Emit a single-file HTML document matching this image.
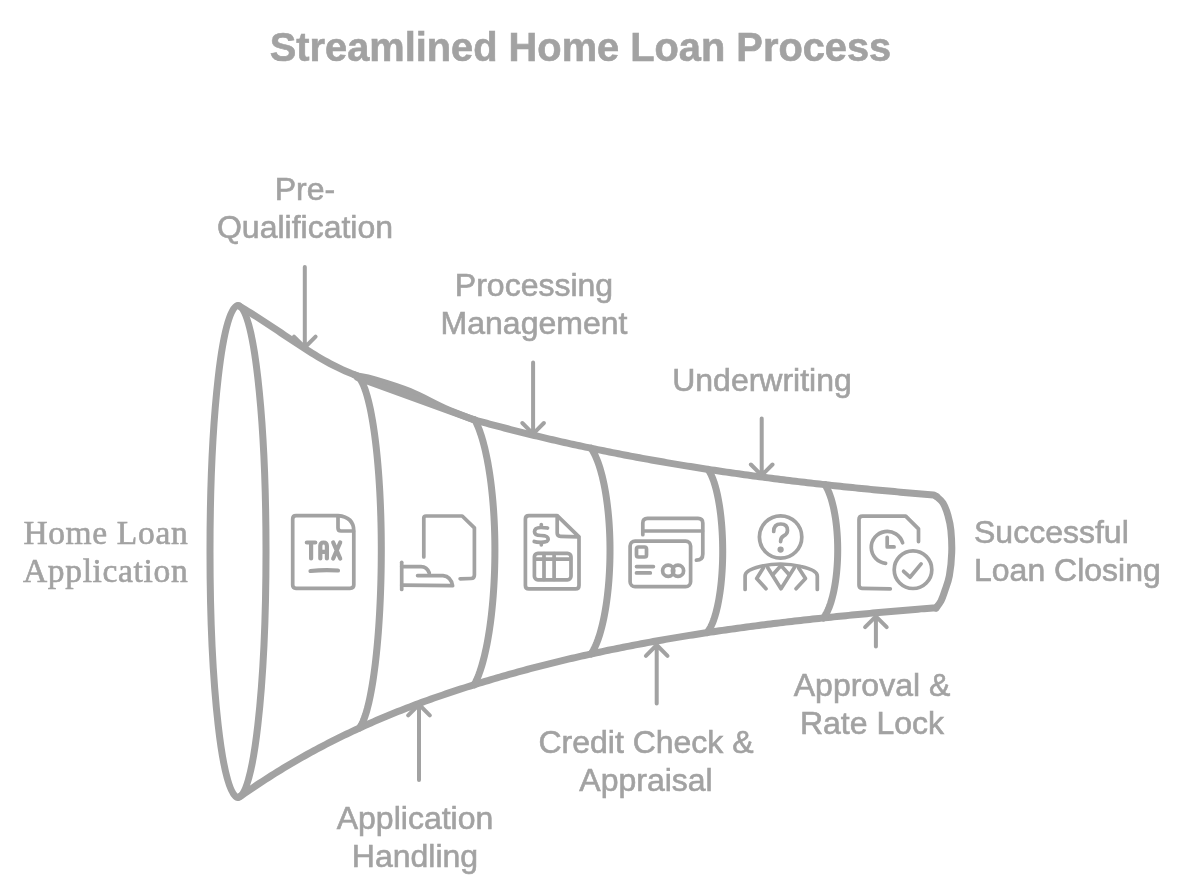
<!DOCTYPE html>
<html><head><meta charset="utf-8"><style>
html,body{margin:0;padding:0;background:#fff;}
body{width:1200px;height:895px;position:relative;overflow:hidden;}
svg{position:absolute;left:0;top:0;}
.t{position:absolute;will-change:transform;font-family:"Liberation Sans",sans-serif;color:#a2a2a2;font-size:32px;line-height:38px;white-space:nowrap;}
.c{text-align:center;}
.s{-webkit-text-stroke:0.6px #a2a2a2;}
.serif{font-family:"Liberation Serif",serif;font-size:33.5px;letter-spacing:0.65px;}
</style></head><body>
<svg width="1200" height="895" viewBox="0 0 1200 895">
<ellipse cx="238" cy="551.5" rx="28" ry="246" fill="none" stroke="#a2a2a2" stroke-width="7"/>
<path d="M 238.50,305.80 L 241.55,307.49 L 244.60,309.29 L 247.65,311.13 L 250.71,313.01 L 253.76,314.92 L 256.81,316.86 L 259.86,318.82 L 262.91,320.81 L 265.96,322.81 L 269.01,324.83 L 272.06,326.86 L 275.12,328.90 L 278.17,330.95 L 281.22,333.00 L 284.27,335.05 L 287.32,337.09 L 290.37,339.13 L 293.42,341.16 L 296.47,343.18 L 299.53,345.17 L 302.58,347.15 L 305.63,349.11 L 308.68,351.04 L 311.73,352.95 L 314.78,354.81 L 317.83,356.65 L 320.88,358.44 L 323.94,360.20 L 326.99,361.91 L 330.04,363.57 L 333.09,365.18 L 336.14,366.73 L 339.19,368.23 L 342.24,369.66 L 345.29,371.03 L 348.35,372.33 L 351.40,373.57 L 354.45,374.73 L 357.50,376.00" fill="none" stroke="#a2a2a2" stroke-width="7" stroke-linecap="round" stroke-linejoin="round"/>
<path d="M 357.5,376.0 C 360.4,376.6 366.2,377.2 375.0,379.8 C 383.8,382.4 398.3,386.7 410.0,391.5 C 421.7,396.3 434.2,403.6 445.0,408.4 C 455.8,413.1 469.6,418.1 474.5,420.0" fill="none" stroke="#a2a2a2" stroke-width="7" stroke-linecap="round" stroke-linejoin="round"/>
<path d="M 357.5,377.5 C 377.0,384.6 455.0,412.9 474.5,420.0" fill="none" stroke="#a2a2a2" stroke-width="7" stroke-linecap="round" stroke-linejoin="round"/>
<path d="M 474.50,420.00 L 477.50,420.77 L 480.50,421.59 L 483.50,422.41 L 486.50,423.23 L 489.50,424.03 L 492.50,424.84 L 495.50,425.63 L 498.50,426.42 L 501.50,427.21 L 504.50,427.99 L 507.50,428.76 L 510.50,429.53 L 513.50,430.29 L 516.50,431.05 L 519.50,431.80 L 522.50,432.55 L 525.50,433.29 L 528.50,434.03 L 531.50,434.76 L 534.50,435.49 L 537.50,436.21 L 540.50,436.92 L 543.50,437.63 L 546.50,438.34 L 549.50,439.04 L 552.50,439.73 L 555.50,440.42 L 558.50,441.11 L 561.50,441.79 L 564.50,442.46 L 567.50,443.13 L 570.50,443.80 L 573.50,444.46 L 576.50,445.11 L 579.50,445.76 L 582.50,446.41 L 585.50,447.05 L 588.50,447.68 L 591.50,448.31 L 594.50,448.94 L 597.50,449.56 L 600.50,450.17 L 603.50,450.79 L 606.50,451.39 L 609.50,452.00 L 612.50,452.59 L 615.50,453.19 L 618.50,453.77 L 621.50,454.36 L 624.50,454.94 L 627.50,455.51 L 630.50,456.08 L 633.50,456.65 L 636.50,457.21 L 639.50,457.77 L 642.50,458.32 L 645.50,458.87 L 648.50,459.41 L 651.50,459.95 L 654.50,460.49 L 657.50,461.02 L 660.50,461.54 L 663.50,462.07 L 666.50,462.58 L 669.50,463.10 L 672.50,463.61 L 675.50,464.11 L 678.50,464.62 L 681.50,465.11 L 684.50,465.61 L 687.50,466.10 L 690.50,466.58 L 693.50,467.07 L 696.50,467.54 L 699.50,468.02 L 702.50,468.49 L 705.50,468.95 L 708.50,469.42 L 711.50,469.87 L 714.50,470.33 L 717.50,470.78 L 720.50,471.23 L 723.50,471.67 L 726.50,472.11 L 729.50,472.55 L 732.50,472.98 L 735.50,473.41 L 738.50,473.83 L 741.50,474.26 L 744.50,474.67 L 747.50,475.09 L 750.50,475.50 L 753.50,475.91 L 756.50,476.31 L 759.50,476.71 L 762.50,477.11 L 765.50,477.50 L 768.50,477.90 L 771.50,478.28 L 774.50,478.67 L 777.50,479.05 L 780.50,479.43 L 783.50,479.80 L 786.50,480.17 L 789.50,480.54 L 792.50,480.90 L 795.50,481.27 L 798.50,481.62 L 801.50,481.98 L 804.50,482.33 L 807.50,482.68 L 810.50,483.03 L 813.50,483.37 L 816.50,483.71 L 819.50,484.05 L 822.50,484.39 L 825.50,484.72 L 828.50,485.05 L 831.50,485.37 L 834.50,485.70 L 837.50,486.02 L 840.50,486.33 L 843.50,486.65 L 846.50,486.96 L 849.50,487.27 L 852.50,487.58 L 855.50,487.88 L 858.50,488.19 L 861.50,488.49 L 864.50,488.78 L 867.50,489.08 L 870.50,489.37 L 873.50,489.66 L 876.50,489.94 L 879.50,490.23 L 882.50,490.51 L 885.50,490.79 L 888.50,491.07 L 891.50,491.34 L 894.50,491.61 L 897.50,491.89 L 900.50,492.15 L 903.50,492.42 L 906.50,492.68 L 909.50,492.94 L 912.50,493.20 L 915.50,493.46 L 918.50,493.72 L 921.50,493.97 L 924.50,494.22 L 927.50,494.47 L 930.50,494.72 L 933.50,494.96 L 936.50,496.50" fill="none" stroke="#a2a2a2" stroke-width="7" stroke-linecap="round" stroke-linejoin="round"/>
<path d="M 936.5,496.5 C 937.6,497.6 941.1,499.9 943.0,503.0 C 944.9,506.1 946.6,510.7 947.9,515.2 C 949.2,519.8 950.3,524.0 950.9,530.3 C 951.5,536.6 952.0,545.3 951.7,552.9 C 951.5,560.5 950.5,569.3 949.4,575.6 C 948.3,581.9 946.3,586.5 944.9,590.7 C 943.5,594.9 942.5,598.1 941.0,601.0 C 939.5,603.9 936.8,606.8 936.0,608.0" fill="none" stroke="#a2a2a2" stroke-width="7" stroke-linecap="round" stroke-linejoin="round"/>
<path d="M 238.50,797.30 L 241.51,795.57 L 244.51,793.47 L 247.52,791.39 L 250.53,789.33 L 253.53,787.29 L 256.54,785.28 L 259.55,783.29 L 262.55,781.32 L 265.56,779.37 L 268.56,777.44 L 271.57,775.53 L 274.58,773.64 L 277.58,771.77 L 280.59,769.93 L 283.60,768.10 L 286.60,766.29 L 289.61,764.50 L 292.62,762.73 L 295.62,760.98 L 298.63,759.25 L 301.64,757.54 L 304.64,755.85 L 307.65,754.17 L 310.66,752.52 L 313.66,750.88 L 316.67,749.26 L 319.67,747.65 L 322.68,746.07 L 325.69,744.50 L 328.69,742.95 L 331.70,741.42 L 334.71,739.90 L 337.71,738.40 L 340.72,736.91 L 343.73,735.45 L 346.73,733.99 L 349.74,732.56 L 352.75,731.14 L 355.75,729.73 L 358.76,728.35 L 361.77,726.97 L 364.77,725.61 L 367.78,724.27 L 370.78,722.94 L 373.79,721.62 L 376.80,720.32 L 379.80,719.04 L 382.81,717.76 L 385.82,716.50 L 388.82,715.26 L 391.83,714.03 L 394.84,712.81 L 397.84,711.60 L 400.85,710.41 L 403.86,709.23 L 406.86,708.06 L 409.87,706.90 L 412.88,705.76 L 415.88,704.63 L 418.89,703.51 L 421.89,702.40 L 424.90,701.30 L 427.91,700.21 L 430.91,699.14 L 433.92,698.07 L 436.93,697.02 L 439.93,695.97 L 442.94,694.94 L 445.95,693.92 L 448.95,692.90 L 451.96,691.90 L 454.97,690.91 L 457.97,689.92 L 460.98,688.94 L 463.98,687.98 L 466.99,687.02 L 470.00,686.07 L 473.00,685.13 L 476.01,684.19 L 479.02,683.27 L 482.02,682.35 L 485.03,681.44 L 488.04,680.54 L 491.04,679.65 L 494.05,678.76 L 497.06,677.88 L 500.06,677.01 L 503.07,676.15 L 506.08,675.29 L 509.08,674.44 L 512.09,673.60 L 515.09,672.77 L 518.10,671.94 L 521.11,671.12 L 524.11,670.31 L 527.12,669.50 L 530.13,668.70 L 533.13,667.91 L 536.14,667.13 L 539.15,666.35 L 542.15,665.58 L 545.16,664.82 L 548.17,664.06 L 551.17,663.31 L 554.18,662.57 L 557.19,661.83 L 560.19,661.10 L 563.20,660.38 L 566.20,659.66 L 569.21,658.95 L 572.22,658.25 L 575.22,657.55 L 578.23,656.86 L 581.24,656.18 L 584.24,655.50 L 587.25,654.83 L 590.26,654.16 L 593.26,653.51 L 596.27,652.85 L 599.28,652.21 L 602.28,651.56 L 605.29,650.93 L 608.30,650.30 L 611.30,649.68 L 614.31,649.06 L 617.31,648.45 L 620.32,647.84 L 623.33,647.24 L 626.33,646.65 L 629.34,646.06 L 632.35,645.48 L 635.35,644.90 L 638.36,644.33 L 641.37,643.76 L 644.37,643.20 L 647.38,642.64 L 650.39,642.09 L 653.39,641.55 L 656.40,641.01 L 659.41,640.48 L 662.41,639.95 L 665.42,639.42 L 668.42,638.90 L 671.43,638.39 L 674.44,637.88 L 677.44,637.38 L 680.45,636.88 L 683.46,636.38 L 686.46,635.89 L 689.47,635.41 L 692.48,634.93 L 695.48,634.45 L 698.49,633.98 L 701.50,633.51 L 704.50,633.05 L 707.51,632.59 L 710.52,632.14 L 713.52,631.69 L 716.53,631.25 L 719.53,630.81 L 722.54,630.37 L 725.55,629.94 L 728.55,629.52 L 731.56,629.09 L 734.57,628.67 L 737.57,628.26 L 740.58,627.85 L 743.59,627.44 L 746.59,627.04 L 749.60,626.64 L 752.61,626.25 L 755.61,625.85 L 758.62,625.47 L 761.62,625.08 L 764.63,624.70 L 767.64,624.33 L 770.64,623.95 L 773.65,623.58 L 776.66,623.22 L 779.66,622.86 L 782.67,622.50 L 785.68,622.14 L 788.68,621.79 L 791.69,621.44 L 794.70,621.09 L 797.70,620.75 L 800.71,620.41 L 803.72,620.07 L 806.72,619.74 L 809.73,619.41 L 812.73,619.08 L 815.74,618.76 L 818.75,618.44 L 821.75,618.12 L 824.76,617.80 L 827.77,617.49 L 830.77,617.18 L 833.78,616.87 L 836.79,616.56 L 839.79,616.26 L 842.80,615.96 L 845.81,615.66 L 848.81,615.37 L 851.82,615.07 L 854.83,614.78 L 857.83,614.49 L 860.84,614.21 L 863.84,613.92 L 866.85,613.64 L 869.86,613.36 L 872.86,613.08 L 875.87,612.81 L 878.88,612.53 L 881.88,612.26 L 884.89,611.99 L 887.90,611.72 L 890.90,611.46 L 893.91,611.19 L 896.92,610.93 L 899.92,610.67 L 902.93,610.41 L 905.94,610.15 L 908.94,609.90 L 911.95,609.64 L 914.95,609.39 L 917.96,609.14 L 920.97,608.88 L 923.97,608.64 L 926.98,608.39 L 929.99,608.14 L 932.99,607.90 L 936.00,608.00" fill="none" stroke="#a2a2a2" stroke-width="7" stroke-linecap="round" stroke-linejoin="round"/>
<path d="M 354.10,374.63 L 358.36,376.78 L 359.29,377.84 L 360.22,379.11 L 361.14,380.59 L 362.05,382.27 L 362.96,384.16 L 363.85,386.24 L 364.73,388.53 L 365.60,391.01 L 366.45,393.69 L 367.29,396.55 L 368.11,399.61 L 368.91,402.84 L 369.70,406.25 L 370.47,409.84 L 371.22,413.60 L 371.94,417.52 L 372.65,421.61 L 373.33,425.85 L 373.99,430.24 L 374.63,434.77 L 375.24,439.45 L 375.82,444.26 L 376.38,449.20 L 376.91,454.26 L 377.41,459.43 L 377.89,464.72 L 378.34,470.11 L 378.75,475.60 L 379.14,481.17 L 379.49,486.83 L 379.82,492.57 L 380.11,498.37 L 380.37,504.24 L 380.60,510.16 L 380.80,516.13 L 380.97,522.14 L 381.10,528.19 L 381.20,534.26 L 381.26,540.35 L 381.30,546.45 L 381.30,552.68 L 381.26,559.03 L 381.20,565.37 L 381.10,571.69 L 380.97,577.98 L 380.80,584.24 L 380.60,590.45 L 380.37,596.62 L 380.11,602.72 L 379.82,608.77 L 379.49,614.74 L 379.14,620.63 L 378.75,626.43 L 378.34,632.15 L 377.89,637.76 L 377.41,643.26 L 376.91,648.65 L 376.38,653.91 L 375.82,659.06 L 375.24,664.06 L 374.63,668.93 L 373.99,673.65 L 373.33,678.22 L 372.65,682.64 L 371.94,686.89 L 371.22,690.97 L 370.47,694.88 L 369.70,698.62 L 368.91,702.17 L 368.11,705.54 L 367.29,708.72 L 366.45,711.70 L 365.60,714.49 L 364.73,717.07 L 363.85,719.45 L 362.96,721.62 L 362.05,723.59 L 361.14,725.34 L 360.22,726.88 L 359.43,728.01" fill="none" stroke="#a2a2a2" stroke-width="7" stroke-linecap="round" stroke-linejoin="round"/>
<path d="M 475.01,420.16 L 476.08,422.27 L 477.12,424.55 L 478.15,426.97 L 479.16,429.55 L 480.14,432.27 L 481.10,435.14 L 482.04,438.14 L 482.95,441.29 L 483.84,444.56 L 484.69,447.97 L 485.52,451.49 L 486.32,455.14 L 487.09,458.91 L 487.83,462.78 L 488.53,466.76 L 489.20,470.85 L 489.84,475.03 L 490.44,479.30 L 491.01,483.66 L 491.54,488.10 L 492.03,492.61 L 492.49,497.19 L 492.91,501.84 L 493.29,506.55 L 493.63,511.31 L 493.93,516.12 L 494.19,520.97 L 494.41,525.85 L 494.59,530.77 L 494.73,535.70 L 494.83,540.66 L 494.88,545.63 L 494.90,550.61 L 494.88,555.70 L 494.81,560.79 L 494.70,565.86 L 494.56,570.92 L 494.37,575.95 L 494.14,580.94 L 493.87,585.90 L 493.56,590.82 L 493.21,595.69 L 492.83,600.50 L 492.40,605.25 L 491.94,609.93 L 491.44,614.54 L 490.90,619.07 L 490.33,623.52 L 489.72,627.88 L 489.07,632.14 L 488.39,636.30 L 487.68,640.36 L 486.94,644.31 L 486.17,648.14 L 485.36,651.85 L 484.53,655.44 L 483.66,658.90 L 482.77,662.23 L 481.85,665.43 L 480.91,668.48 L 479.95,671.39 L 478.96,674.14 L 477.95,676.75 L 476.92,679.21 L 475.87,681.50 L 474.80,683.64 L 474.21,684.75" fill="none" stroke="#a2a2a2" stroke-width="7" stroke-linecap="round" stroke-linejoin="round"/>
<path d="M 591.11,448.24 L 592.07,449.71 L 593.02,451.30 L 593.95,453.01 L 594.87,454.84 L 595.77,456.79 L 596.65,458.85 L 597.51,461.02 L 598.34,463.30 L 599.16,465.69 L 599.95,468.17 L 600.72,470.76 L 601.46,473.45 L 602.18,476.23 L 602.87,479.09 L 603.53,482.05 L 604.17,485.09 L 604.77,488.20 L 605.35,491.40 L 605.89,494.66 L 606.40,497.99 L 606.88,501.39 L 607.33,504.84 L 607.74,508.35 L 608.12,511.91 L 608.47,515.52 L 608.78,519.17 L 609.06,522.85 L 609.30,526.57 L 609.51,530.32 L 609.68,534.10 L 609.81,537.89 L 609.91,541.70 L 609.97,545.51 L 610.00,549.34 L 609.99,553.22 L 609.94,557.11 L 609.86,561.00 L 609.74,564.87 L 609.58,568.73 L 609.39,572.56 L 609.16,576.37 L 608.90,580.14 L 608.60,583.88 L 608.27,587.57 L 607.90,591.22 L 607.50,594.82 L 607.06,598.37 L 606.60,601.86 L 606.10,605.28 L 605.57,608.64 L 605.00,611.92 L 604.41,615.13 L 603.79,618.26 L 603.14,621.31 L 602.46,624.27 L 601.75,627.14 L 601.02,629.92 L 600.26,632.60 L 599.48,635.17 L 598.67,637.65 L 597.84,640.02 L 596.99,642.28 L 596.12,644.42 L 595.23,646.45 L 594.32,648.37 L 593.39,650.16 L 592.45,651.84 L 591.49,653.38 L 591.11,653.97" fill="none" stroke="#a2a2a2" stroke-width="7" stroke-linecap="round" stroke-linejoin="round"/>
<path d="M 708.00,469.34 L 708.72,470.39 L 709.43,471.54 L 710.12,472.78 L 710.81,474.12 L 711.48,475.55 L 712.14,477.08 L 712.79,478.69 L 713.42,480.40 L 714.04,482.19 L 714.64,484.06 L 715.23,486.02 L 715.79,488.06 L 716.34,490.17 L 716.87,492.36 L 717.38,494.62 L 717.87,496.95 L 718.34,499.35 L 718.78,501.81 L 719.21,504.33 L 719.61,506.91 L 719.99,509.54 L 720.35,512.22 L 720.68,514.95 L 720.99,517.73 L 721.27,520.54 L 721.53,523.40 L 721.77,526.29 L 721.97,529.20 L 722.16,532.15 L 722.31,535.12 L 722.44,538.11 L 722.55,541.11 L 722.62,544.13 L 722.67,547.16 L 722.70,550.19 L 722.70,553.17 L 722.67,556.13 L 722.61,559.08 L 722.53,562.02 L 722.42,564.95 L 722.28,567.86 L 722.12,570.75 L 721.93,573.62 L 721.72,576.46 L 721.48,579.27 L 721.22,582.04 L 720.93,584.78 L 720.62,587.48 L 720.28,590.13 L 719.92,592.74 L 719.53,595.30 L 719.13,597.80 L 718.70,600.25 L 718.24,602.63 L 717.77,604.96 L 717.28,607.22 L 716.76,609.41 L 716.23,611.53 L 715.68,613.58 L 715.11,615.55 L 714.52,617.44 L 713.92,619.25 L 713.30,620.98 L 712.66,622.63 L 712.01,624.19 L 711.35,625.66 L 710.67,627.04 L 709.99,628.32 L 709.29,629.52 L 708.58,630.62 L 707.86,631.62 L 707.13,632.52 L 707.02,632.65" fill="none" stroke="#a2a2a2" stroke-width="7" stroke-linecap="round" stroke-linejoin="round"/>
<path d="M 825.01,484.68 L 825.71,485.82 L 826.40,487.03 L 827.07,488.32 L 827.73,489.68 L 828.37,491.12 L 829.00,492.62 L 829.61,494.20 L 830.20,495.84 L 830.78,497.56 L 831.33,499.33 L 831.87,501.16 L 832.38,503.06 L 832.88,505.01 L 833.35,507.02 L 833.80,509.08 L 834.23,511.19 L 834.64,513.34 L 835.02,515.54 L 835.38,517.78 L 835.72,520.06 L 836.02,522.38 L 836.31,524.73 L 836.57,527.11 L 836.80,529.52 L 837.01,531.95 L 837.19,534.41 L 837.34,536.88 L 837.47,539.37 L 837.56,541.87 L 837.64,544.38 L 837.68,546.90 L 837.70,549.42 L 837.69,551.97 L 837.65,554.52 L 837.59,557.06 L 837.50,559.59 L 837.38,562.11 L 837.23,564.62 L 837.06,567.11 L 836.86,569.58 L 836.64,572.02 L 836.39,574.44 L 836.11,576.82 L 835.81,579.18 L 835.48,581.50 L 835.13,583.78 L 834.76,586.01 L 834.36,588.21 L 833.94,590.35 L 833.49,592.45 L 833.02,594.50 L 832.53,596.49 L 832.02,598.42 L 831.49,600.30 L 830.94,602.11 L 830.38,603.86 L 829.79,605.54 L 829.18,607.16 L 828.56,608.71 L 827.92,610.18 L 827.27,611.58 L 826.60,612.91 L 825.92,614.15 L 825.22,615.32 L 824.52,616.41 L 823.80,617.42 L 823.40,617.94" fill="none" stroke="#a2a2a2" stroke-width="7" stroke-linecap="round" stroke-linejoin="round"/>
<path d="M 304.8,267 L 304.8,347.5 M 294.0,336.7 L 304.8,347.5 L 315.6,336.7" fill="none" stroke="#a2a2a2" stroke-width="4" stroke-linecap="round" stroke-linejoin="round"/>
<path d="M 533.1,362.5 L 533.1,433.8 M 522.3000000000001,423.0 L 533.1,433.8 L 543.9,423.0" fill="none" stroke="#a2a2a2" stroke-width="4" stroke-linecap="round" stroke-linejoin="round"/>
<path d="M 761.7,418.5 L 761.7,475.3 M 750.9000000000001,464.5 L 761.7,475.3 L 772.5,464.5" fill="none" stroke="#a2a2a2" stroke-width="4" stroke-linecap="round" stroke-linejoin="round"/>
<path d="M 419,780 L 419,704.5 M 408.2,715.3 L 419,704.5 L 429.8,715.3" fill="none" stroke="#a2a2a2" stroke-width="4" stroke-linecap="round" stroke-linejoin="round"/>
<path d="M 656.7,703.5 L 656.7,645 M 645.9000000000001,655.8 L 656.7,645 L 667.5,655.8" fill="none" stroke="#a2a2a2" stroke-width="4" stroke-linecap="round" stroke-linejoin="round"/>
<path d="M 875.9,646.5 L 875.9,616.4 M 865.1,627.1999999999999 L 875.9,616.4 L 886.6999999999999,627.1999999999999" fill="none" stroke="#a2a2a2" stroke-width="4" stroke-linecap="round" stroke-linejoin="round"/>

<g fill="none" stroke="#a2a2a2" stroke-width="3.7" stroke-linecap="round" stroke-linejoin="round">
 <!-- icon1 TAX doc -->
 <path d="M 296,515.6 L 338,515.6 Q 353.8,517 353.8,531 L 353.8,585 Q 353.8,588.3 350,588.3 L 296,588.3 Q 292.7,588.3 292.7,585 L 292.7,519 Q 292.7,515.6 296,515.6 Z"/>
 <path d="M 338,516 L 338,528 Q 338,531 341,531 L 353.5,531"/>
 <path d="M 306.8,542.5 L 315.3,542.5 M 311.1,542.5 L 311.1,558.5" stroke-width="4.2"/>
 <path d="M 320.3,558.5 L 320.3,546 Q 320.3,542.5 323.6,542.5 Q 326.9,542.5 326.9,546 L 326.9,558.5 M 320.3,551.8 L 326.9,551.8" stroke-width="4.2"/>
 <path d="M 333.2,542.5 L 340.2,558.5 M 340.2,542.5 L 333.2,558.5" stroke-width="4.2"/>
 <path d="M 310.5,571 Q 324,569.5 338,570.5" stroke-width="4.2"/>
 <!-- icon2 hand doc -->
 <path d="M 423.8,557 L 423.8,518 Q 423.8,516 426,516 L 462.2,516 L 474.4,527.8 L 474.4,575 Q 474.4,578.5 471,578.5 L 460.1,578.8"/>
 <path d="M 401.7,562.3 L 401.7,589.4"/>
 <path d="M 401.7,566.6 L 421,566.6 Q 427,566.6 429.3,573"/>
 <path d="M 417.6,575.6 L 443,575.6 Q 451,576.5 452.6,585.7 L 401.7,585.1"/>
 <!-- icon3 $ doc -->
 <path d="M 529,515.6 L 557.2,515.6 L 579,536.8 L 579,585.5 Q 579,588.9 575.5,588.9 L 529,588.9 Q 525.4,588.9 525.4,585.5 L 525.4,519 Q 525.4,515.6 529,515.6 Z"/>
 <path d="M 557.2,516 L 557.2,533 Q 557.2,536.3 560.5,536.3 L 578.5,536.8"/>
 <path d="M 547.5,528 Q 546,527.5 541,527.5 Q 534.5,527.5 534.5,531.8 Q 534.5,535.5 541,535.5 Q 548.2,535.5 548.2,539.3 Q 548.2,542.3 541,542.3 Q 536,542.3 534.2,541.5 M 541.3,524.6 L 541.3,527.5 M 541.3,542.3 L 541.3,544.8"/>
 <rect x="534.4" y="553.3" width="36.6" height="26.5" rx="3.5"/>
 <path d="M 535,559.1 L 570.5,559.1 M 544,553.5 L 544,579.5 M 554.1,553.5 L 554.1,579.5"/>
 <!-- icon4 cards -->
 <path d="M 642.8,534.7 L 642.8,523 Q 642.8,518.3 647.5,518.3 L 698,518.3 Q 702.8,518.3 702.8,523 L 702.8,554 Q 702.8,560.2 696.4,560.2"/>
 <path d="M 643,531 L 702.5,531"/>
 <rect x="630.1" y="541.1" width="60.5" height="45.6" rx="5"/>
 <rect x="636.5" y="547" width="10" height="10" rx="2"/>
 <path d="M 636.5,566.6 L 653.4,566.6 M 636.5,572.9 L 650.3,572.9"/>
 <circle cx="668.2" cy="570.8" r="5.6"/>
 <circle cx="678" cy="570.8" r="5.6"/>
 <!-- icon5 person -->
 <circle cx="780.6" cy="537" r="21.2"/>
 <path d="M 773.7,531.5 Q 773.7,524 780.8,524 Q 787.5,524 787.5,530.5 Q 787.5,534 783.5,536 Q 780.6,537.5 780.6,541.6"/>
 <circle cx="780.6" cy="549.6" r="1.3" fill="#a2a2a2"/>
 <path d="M 745.1,589.4 L 745.1,576.1 Q 745.1,570 760,566.5 Q 770,564 780.6,564 Q 791,564 801,566.5 Q 817.3,570 817.3,576.1 L 817.3,589.4"/>
 <path d="M 766,588.7 L 756.7,578.6 L 763.4,567.8"/>
 <path d="M 796,588.7 L 805.5,578.6 L 798.5,567.8"/>
 <path d="M 767.6,567.5 L 781,588.7 L 794.4,567.5"/>
 <path d="M 773,574.5 L 781,565.5 L 789,574.5"/>
 <!-- icon6 clock doc check -->
 <path d="M 890.3,588.9 L 862,588.3 Q 859,588.3 859,585 L 859,519.5 Q 859,516.1 862.5,516.1 L 905.7,516.1 L 918.5,528.9 L 918.5,541.6"/>
 <path d="M 885.6,563.3 A 16,16 0 1 1 902.6,542.8"/>
 <path d="M 887.2,537.4 L 887.2,546.9 L 894.1,546.9"/>
 <circle cx="913" cy="569.7" r="18.8"/>
 <path d="M 903.6,571.3 L 910,577.2 L 921.1,563.9"/>
</g>

</svg>

<div class="t s" style="left:0;width:1161px;top:24.3px;text-align:center;font-weight:bold;font-size:39.8px;line-height:46px;">Streamlined Home Loan Process</div>
<div class="t s c" style="left:154.6px;width:300px;top:170.3px;">Pre-<br>Qualification</div>
<div class="t s c" style="left:383.7px;width:300px;top:265.8px;">Processing<br>Management</div>
<div class="t s c" style="left:612.1px;width:300px;top:360.7px;">Underwriting</div>
<div class="t s c" style="left:264.5px;width:300px;top:798.9px;">Application<br>Handling</div>
<div class="t s c" style="left:495.5px;width:300px;top:722.5px;">Credit Check &amp;<br>Appraisal</div>
<div class="t s c" style="left:721.5px;width:300px;top:665.9px;">Approval &amp;<br>Rate Lock</div>
<div class="t s" style="left:974.3px;top:513.2px;">Successful<br>Loan Closing</div>
<div class="t s serif" style="right:1012px;top:514.2px;text-align:right;">Home Loan<br>Application</div>

</body></html>
